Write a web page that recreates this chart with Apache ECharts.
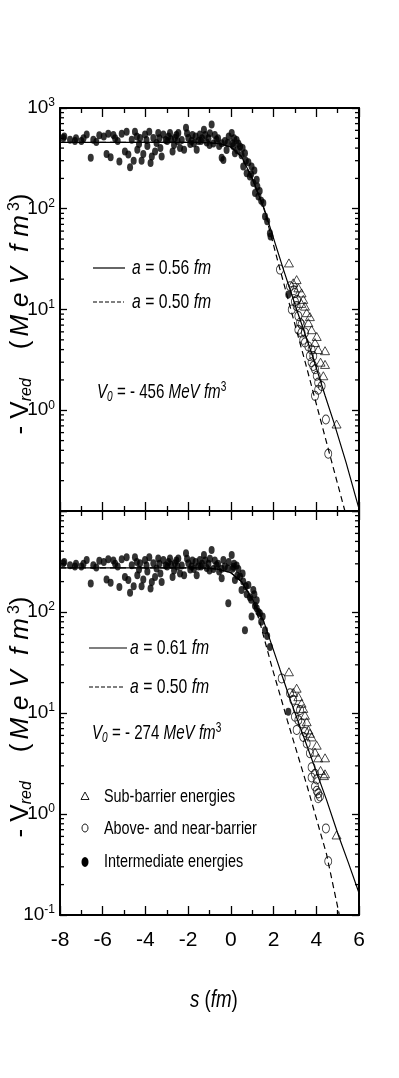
<!DOCTYPE html>
<html>
<head>
<meta charset="utf-8">
<script src="https://cdn.jsdelivr.net/npm/echarts@6/dist/echarts.min.js"></script>
<style>
html, body { margin: 0; padding: 0; background: #fff; }
#main { width: 399px; height: 1078px; }
</style>
</head>
<body>
<div id="main"></div>
<script>
var NARROW = "'Liberation Sans Narrow','Liberation Sans',Arial,sans-serif";
var SANS = "'Liberation Sans',Arial,sans-serif";

// axes
var xMin = -8, xMax = 6, xStep = 2;
var yMin = 0.1, yMax = 1000;
var minorY = [0.2, 0.3, 0.4, 0.5, 0.6, 0.7, 0.8, 0.9, 2, 3, 4, 5, 6, 7, 8, 9,
  20, 30, 40, 50, 60, 70, 80, 90, 200, 300, 400, 500, 600, 700, 800, 900];

// upper panel: [s (fm), -V_red (MeV fm^3)]
var topIntermediate = [
  [-7.85, 505], [-7.8, 520], [-7.53, 485], [-7.3, 470], [-7.25, 500], [-7.0, 470], [-6.9, 500],
  [-6.75, 545], [-6.56, 320], [-6.44, 485], [-6.3, 460], [-6.16, 535], [-5.95, 520], [-5.82, 350],
  [-5.74, 555], [-5.63, 325], [-5.5, 540], [-5.42, 500], [-5.3, 470], [-5.22, 295], [-5.11, 555],
  [-4.96, 370], [-4.88, 580], [-4.8, 345], [-4.72, 258], [-4.64, 485], [-4.55, 300], [-4.49, 580],
  [-4.4, 520], [-4.38, 385], [-4.3, 440], [-4.25, 505], [-4.18, 300], [-4.1, 350], [-4.02, 545],
  [-3.95, 480], [-3.91, 420], [-3.82, 580], [-3.76, 285], [-3.7, 330], [-3.63, 505], [-3.55, 370],
  [-3.48, 450], [-3.4, 565], [-3.35, 500], [-3.3, 400], [-3.24, 330], [-3.16, 545], [-3.05, 480],
  [-2.98, 470], [-2.92, 520], [-2.85, 565], [-2.8, 490], [-2.73, 370], [-2.66, 430], [-2.62, 505],
  [-2.55, 540], [-2.5, 470], [-2.46, 565], [-2.38, 400], [-2.3, 480], [-2.19, 385], [-2.1, 635],
  [-2.05, 560], [-1.99, 505], [-1.9, 440], [-1.84, 470], [-1.8, 540], [-1.73, 445], [-1.65, 520],
  [-1.6, 385], [-1.52, 470], [-1.45, 545], [-1.4, 470], [-1.35, 500], [-1.26, 610], [-1.2, 540],
  [-1.13, 455], [-1.05, 500], [-1.0, 430], [-0.98, 560], [-0.9, 685], [-0.82, 445], [-0.75, 540],
  [-0.67, 485], [-0.6, 500], [-0.55, 420], [-0.43, 320], [-0.43, 447], [-0.35, 305], [-0.28, 470],
  [-0.2, 384], [-0.15, 450], [-0.1, 520], [0.04, 565], [0.08, 447], [0.11, 420], [0.15, 500],
  [0.19, 356], [0.27, 482], [0.3, 380], [0.35, 445], [0.43, 414], [0.5, 340], [0.55, 400],
  [0.58, 262], [0.66, 356], [0.7, 300], [0.74, 225], [0.82, 290], [0.89, 209], [0.95, 220],
  [0.97, 262], [1.05, 180], [1.1, 240], [1.13, 143], [1.21, 194], [1.24, 166], [1.29, 132],
  [1.35, 150], [1.42, 120], [1.52, 114], [1.6, 84], [1.7, 75], [1.83, 57], [1.86, 53], [2.69, 14.1]
];
var topAbove = [
  [2.3, 24.9], [2.77, 17], [2.85, 10], [2.95, 15.5], [3.0, 14.6], [3.0, 12], [3.08, 10.8], [3.1, 12.5],
  [3.16, 8.6], [3.16, 6.3], [3.24, 7.4], [3.31, 7.1], [3.31, 5.9], [3.39, 5.0], [3.47, 5.9], [3.47, 4.7],
  [3.63, 4.3], [3.7, 3.45], [3.78, 4.0], [3.78, 3.0], [3.86, 3.45], [3.86, 2.75], [3.94, 2.55],
  [3.94, 1.39], [4.02, 2.2], [4.09, 1.88], [4.09, 1.6], [4.25, 1.74], [4.45, 0.81], [4.56, 0.37]
];
var topSub = [
  [2.72, 29], [2.92, 18.4], [3.08, 19.8], [3.16, 16.4], [3.31, 14.6], [3.3, 11.5], [3.39, 12.6],
  [3.47, 10.8], [3.55, 9.3], [3.63, 7.4], [3.7, 8.5], [3.78, 6.3], [3.94, 4.7], [4.02, 5.4],
  [4.09, 4.0], [4.2, 3.0], [4.41, 3.9], [4.41, 2.85], [4.33, 2.2], [4.95, 0.73]
];
var topFit56 = [
  [-8, 456], [-1.5, 456], [-1.0, 452], [-0.5, 440], [0, 410], [0.5, 330], [1.0, 200], [1.56, 100],
  [2.46, 25], [3.08, 10], [3.78, 3.7], [4.41, 1.4], [4.83, 0.75], [5.4, 0.3], [6.0, 0.105]
];
var topFit50 = [
  [-8, 456], [-1.5, 456], [-1.0, 452], [-0.5, 440], [0, 410], [0.5, 330], [1.0, 200], [1.55, 100],
  [2.2, 30], [2.81, 10], [3.5, 2.9], [4.08, 1.0], [4.7, 0.32], [5.34, 0.1]
];

// lower panel
var botIntermediate = [
  [-7.85, 303], [-7.8, 312], [-7.53, 291], [-7.3, 282], [-7.25, 300], [-7.0, 282], [-6.9, 300],
  [-6.75, 327], [-6.56, 192], [-6.44, 291], [-6.3, 276], [-6.16, 321], [-5.95, 312], [-5.82, 210],
  [-5.74, 333], [-5.63, 195], [-5.5, 324], [-5.42, 300], [-5.3, 282], [-5.22, 177], [-5.11, 333],
  [-4.96, 222], [-4.88, 348], [-4.8, 207], [-4.72, 155], [-4.64, 291], [-4.55, 180], [-4.49, 348],
  [-4.4, 312], [-4.38, 231], [-4.3, 264], [-4.25, 303], [-4.18, 180], [-4.1, 210], [-4.02, 327],
  [-3.95, 288], [-3.91, 252], [-3.82, 348], [-3.76, 171], [-3.7, 198], [-3.63, 303], [-3.55, 222],
  [-3.48, 270], [-3.4, 339], [-3.35, 300], [-3.3, 240], [-3.24, 198], [-3.16, 327], [-3.05, 288],
  [-2.98, 282], [-2.92, 312], [-2.85, 339], [-2.8, 294], [-2.73, 222], [-2.66, 258], [-2.62, 303],
  [-2.55, 324], [-2.5, 282], [-2.46, 339], [-2.38, 240], [-2.3, 288], [-2.19, 231], [-2.1, 381],
  [-2.05, 336], [-1.99, 303], [-1.9, 264], [-1.84, 282], [-1.8, 324], [-1.73, 267], [-1.65, 312],
  [-1.6, 231], [-1.52, 282], [-1.45, 327], [-1.4, 282], [-1.35, 300], [-1.26, 366], [-1.2, 324],
  [-1.13, 273], [-1.05, 300], [-1.0, 258], [-0.98, 336], [-0.9, 411], [-0.82, 267], [-0.75, 324],
  [-0.67, 291], [-0.6, 300], [-0.55, 252], [-0.43, 216], [-0.43, 268], [-0.35, 327], [-0.28, 282],
  [-0.15, 270], [-0.12, 122], [-0.1, 312], [0.04, 367], [0.08, 268], [0.12, 281], [0.15, 300],
  [0.19, 207], [0.27, 289], [0.3, 228], [0.35, 267], [0.43, 224], [0.5, 165], [0.55, 240],
  [0.58, 200], [0.66, 66], [0.7, 180], [0.74, 150], [0.82, 185], [0.89, 140], [0.95, 132],
  [0.97, 90], [1.05, 165], [1.1, 150], [1.13, 115], [1.21, 109], [1.21, 131], [1.29, 100],
  [1.36, 97], [1.42, 80], [1.49, 90], [1.6, 66], [1.7, 58], [1.83, 45], [2.69, 10.3]
];
var botAbove = [
  [2.38, 22], [2.77, 15.7], [2.92, 13.5], [3.0, 9.2], [3.08, 6.8], [3.08, 11], [3.16, 8.5],
  [3.24, 10.7], [3.31, 7.9], [3.39, 5.8], [3.47, 6.5], [3.55, 5.0], [3.7, 4.0], [3.78, 2.9],
  [3.78, 2.3], [3.94, 2.5], [3.94, 1.87], [4.02, 2.2], [4.02, 1.7], [4.09, 1.6], [4.09, 1.43],
  [4.17, 1.49], [4.45, 0.72], [4.56, 0.34]
];
var botSub = [
  [2.72, 25.6], [2.92, 16], [3.08, 17.6], [3.16, 14.5], [3.31, 12.5], [3.39, 11.1], [3.47, 9.5],
  [3.55, 8.2], [3.63, 6.8], [3.7, 6.3], [3.78, 5.8], [3.94, 4.1], [4.02, 4.8], [4.09, 3.6],
  [4.2, 2.7], [4.41, 3.6], [4.41, 2.5], [4.36, 2.4], [4.95, 0.62]
];
var botFit61 = [
  [-8, 274], [-1.5, 274], [-1.0, 271], [-0.5, 262], [0, 245], [0.5, 200], [1.0, 135], [1.52, 83],
  [2.3, 27], [2.81, 13], [3.6, 4.5], [4.48, 1.38], [5.03, 0.62], [5.5, 0.33], [6.0, 0.165]
];
var botFit50 = [
  [-8, 274], [-1.5, 274], [-1.0, 271], [-0.5, 262], [0, 245], [0.5, 200], [1.0, 132], [1.33, 83],
  [1.96, 26.7], [2.46, 11.6], [2.64, 8.5], [3.58, 1.86], [4.48, 0.4], [5.08, 0.1]
];

var chart = echarts.init(document.getElementById('main'), null, { renderer: 'canvas' });

function xAxisCfg(grid, pos, labels) {
  return {
    type: 'value', gridIndex: grid, position: pos, min: xMin, max: xMax, interval: xStep,
    axisLine: { show: true, onZero: false, lineStyle: { color: '#000', width: 2 } },
    axisTick: { show: true, inside: true, length: 9, lineStyle: { color: '#000', width: 1.3 } },
    minorTick: { show: true, splitNumber: 2, length: 5, lineStyle: { color: '#000', width: 1.3 } },
    splitLine: { show: false }, minorSplitLine: { show: false },
    axisLabel: { show: labels, margin: 15, fontFamily: NARROW, fontSize: 21, color: '#000' }
  };
}

var tickRich = {
  b: { fontFamily: NARROW, fontSize: 19, color: '#000', verticalAlign: 'middle' },
  s: { fontFamily: NARROW, fontSize: 12, color: '#000', verticalAlign: 'bottom', padding: [0, 0, 10, 0] }
};

function yAxisCfg(grid, pos, labels, hideExp) {
  return {
    type: 'log', logBase: 10, gridIndex: grid, position: pos, min: yMin, max: yMax,
    axisLine: { show: true, onZero: false, lineStyle: { color: '#000', width: 2 } },
    axisTick: { show: true, inside: true, length: 7, lineStyle: { color: '#000', width: 1.3 } },
    minorTick: { show: false }, splitLine: { show: false },
    axisLabel: {
      show: labels, margin: 5, rich: tickRich,
      formatter: function (v) {
        var e = Math.round(Math.log10(v));
        if (e === hideExp) return '';
        return '{b|10}{s|' + e + '}';
      }
    }
  };
}

// short log-spaced minor ticks on both y borders
function minorTicks(xi, yi) {
  return {
    type: 'custom', xAxisIndex: xi, yAxisIndex: yi, silent: true, z: 5,
    data: minorY.map(function (v) { return [xMin, v]; }),
    renderItem: function (params, api) {
      var v = api.value(1);
      var l = api.coord([xMin, v]);
      var r = api.coord([xMax, v]);
      var st = { stroke: '#000', lineWidth: 1.3 };
      return {
        type: 'group', children: [
          { type: 'line', shape: { x1: l[0], y1: l[1], x2: l[0] + 4, y2: l[1] }, style: st },
          { type: 'line', shape: { x1: r[0] - 4, y1: r[1], x2: r[0], y2: r[1] }, style: st }
        ]
      };
    }
  };
}

function dots(name, data, xi, yi) {
  return {
    name: name, type: 'scatter', data: data, xAxisIndex: xi, yAxisIndex: yi,
    symbol: 'circle', symbolSize: [6, 8], itemStyle: { color: '#000' }, z: 2
  };
}
function openSym(name, data, xi, yi, sym, size) {
  return {
    name: name, type: 'scatter', data: data, xAxisIndex: xi, yAxisIndex: yi,
    symbol: sym, symbolSize: size,
    itemStyle: { color: 'rgba(0,0,0,0)', borderColor: '#000', borderWidth: 0.9 }, z: 2
  };
}
function fit(data, xi, yi, dashed) {
  return {
    type: 'line', data: data, xAxisIndex: xi, yAxisIndex: yi, symbol: 'none',
    lineStyle: { color: '#000', width: 1.2, type: dashed ? [6, 4] : 'solid' }, z: 3
  };
}

var txt = function (size, italic) {
  return { fontFamily: NARROW, fontSize: size, fontStyle: italic ? 'italic' : 'normal', color: '#000', verticalAlign: 'middle' };
};
var legendRich = {
  n: txt(21, false), i: txt(21, true),
  sb: { fontFamily: NARROW, fontSize: 14, fontStyle: 'italic', color: '#000', verticalAlign: 'bottom', padding: [10, 0, 0, 0] },
  sp: { fontFamily: NARROW, fontSize: 14, color: '#000', verticalAlign: 'bottom', padding: [0, 0, 10, 0] }
};
var titleRich = {
  n: { fontFamily: SANS, fontSize: 26, color: '#000', verticalAlign: 'middle' },
  i: { fontFamily: SANS, fontSize: 26, fontStyle: 'italic', color: '#000', verticalAlign: 'middle', padding: [0, 4] },
  sb: { fontFamily: SANS, fontSize: 16, fontStyle: 'italic', color: '#000', verticalAlign: 'bottom', padding: [12, 0, 0, 0] },
  sp: { fontFamily: SANS, fontSize: 16, color: '#000', verticalAlign: 'bottom', padding: [0, 0, 12, 0] }
};
var yTitle = '{n|- V}{sb|red}{n|    (}{i|M}{i|e}{i|V}{n| }{i|f}{i|m}{sp|3}{n|)}';

// condensed captions: the figure uses a narrow face, so squeeze horizontally
function label(x, y, text, rich, sx) {
  return { type: 'text', x: x, y: y, scaleX: sx || 0.75,
    style: { text: text, rich: rich, verticalAlign: 'middle', align: 'left' } };
}
function caption(x, y, text) {
  return { type: 'text', x: x, y: y, scaleX: 0.8,
    style: { text: text, fontFamily: NARROW, fontSize: 18, fill: '#000', verticalAlign: 'middle', align: 'left' } };
}
function sample(x1, x2, y, dashed) {
  return { type: 'line', shape: { x1: x1, y1: y, x2: x2, y2: y },
    style: { stroke: '#000', lineWidth: 1.2, lineDash: dashed ? [4, 2] : null } };
}

var option = {
  animation: false,
  backgroundColor: '#fff',
  grid: [
    { left: 60, top: 108, width: 299, height: 403 },
    { left: 60, top: 511, width: 299, height: 404 }
  ],
  xAxis: [
    xAxisCfg(0, 'bottom', false), xAxisCfg(0, 'top', false),
    xAxisCfg(1, 'bottom', true), xAxisCfg(1, 'top', false)
  ],
  yAxis: [
    yAxisCfg(0, 'left', true, -1), yAxisCfg(0, 'right', false, null),
    yAxisCfg(1, 'left', true, 3), yAxisCfg(1, 'right', false, null)
  ],
  series: [
    dots('Intermediate energies', topIntermediate, 0, 0),
    openSym('Above- and near-barrier', topAbove, 0, 0, 'circle', [7, 9]),
    openSym('Sub-barrier energies', topSub, 0, 0, 'triangle', [9, 8]),
    fit(topFit56, 0, 0, false),
    fit(topFit50, 0, 0, true),
    minorTicks(0, 0),
    dots('Intermediate energies', botIntermediate, 2, 2),
    openSym('Above- and near-barrier', botAbove, 2, 2, 'circle', [7, 9]),
    openSym('Sub-barrier energies', botSub, 2, 2, 'triangle', [9, 8]),
    fit(botFit61, 2, 2, false),
    fit(botFit50, 2, 2, true),
    minorTicks(2, 2)
  ],
  graphic: [
    // upper panel annotations
    sample(93, 125, 268, false),
    label(132, 268, '{i|a}{n| = 0.56 }{i|fm}', legendRich),
    sample(93, 124, 302, true),
    label(132, 302, '{i|a}{n| = 0.50 }{i|fm}', legendRich),
    label(97, 392, '{i|V}{sb|0}{n| = - 456 }{i|MeV fm}{sp|3}', legendRich, 0.72),
    // lower panel annotations
    sample(89, 127, 648, false),
    label(130, 648, '{i|a}{n| = 0.61 }{i|fm}', legendRich),
    sample(89, 124, 687, true),
    label(130, 687, '{i|a}{n| = 0.50 }{i|fm}', legendRich),
    label(92, 733, '{i|V}{sb|0}{n| = - 274 }{i|MeV fm}{sp|3}', legendRich, 0.72),
    { type: 'polygon', shape: { points: [[85, 792], [81, 799.5], [89, 799.5]] },
      style: { fill: 'none', stroke: '#000', lineWidth: 0.9 } },
    caption(104, 797, 'Sub-barrier energies'),
    { type: 'ellipse', shape: { cx: 85, cy: 828, rx: 3, ry: 4 }, style: { fill: 'none', stroke: '#000', lineWidth: 0.9 } },
    caption(104, 829, 'Above- and near-barrier'),
    { type: 'ellipse', shape: { cx: 85, cy: 862, rx: 3.5, ry: 5 }, style: { fill: '#000' } },
    caption(104, 862, 'Intermediate energies'),
    // axis titles
    { type: 'text', x: 21, y: 314, rotation: Math.PI / 2,
      style: { text: yTitle, rich: titleRich, align: 'center', verticalAlign: 'middle' } },
    { type: 'text', x: 21, y: 717, rotation: Math.PI / 2,
      style: { text: yTitle, rich: titleRich, align: 'center', verticalAlign: 'middle' } },
    { type: 'text', x: 190, y: 1000, scaleX: 0.78,
      style: { text: '{i|s}{n| (}{i|fm}{n|)}', align: 'left', verticalAlign: 'middle',
        rich: { i: txt(24, true), n: txt(24, false) } } }
  ]
};

chart.setOption(option);
</script>
</body>
</html>
